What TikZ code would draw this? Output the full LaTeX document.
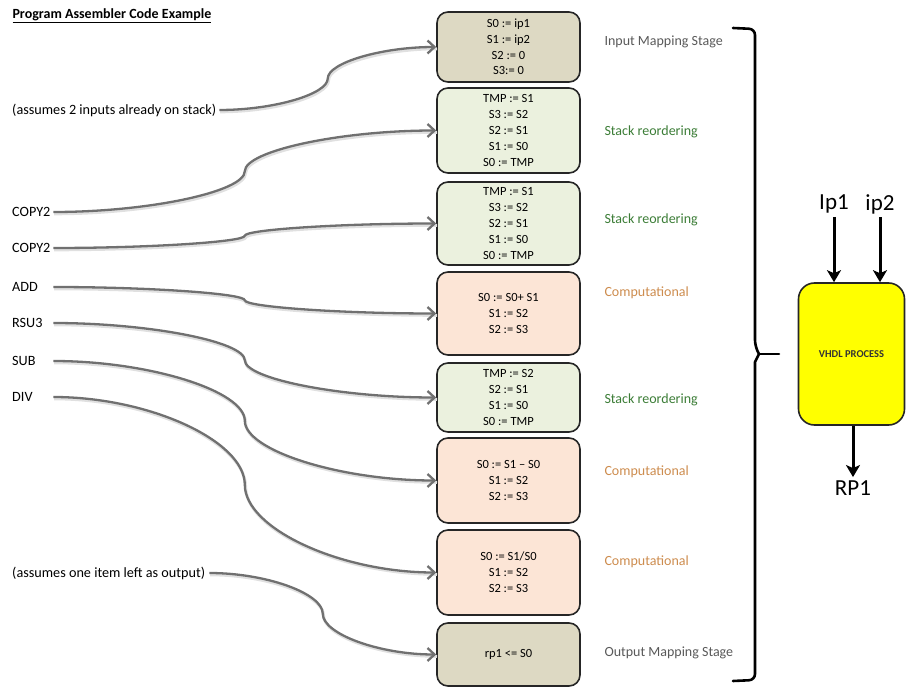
\documentclass[tikz,border=0pt]{standalone}
\usepackage{fontspec}
\setmainfont{Carlito}
\usetikzlibrary{arrows.meta,calc}

\definecolor{tanfill}{RGB}{221,217,195}
\definecolor{greenfill}{RGB}{235,241,222}
\definecolor{peachfill}{RGB}{252,229,214}
\definecolor{conngray}{RGB}{112,112,112}
\definecolor{stagegray}{RGB}{89,89,89}
\definecolor{stagegreen}{RGB}{60,125,55}
\definecolor{stageorange}{RGB}{205,140,78}
\definecolor{vhdlyellow}{RGB}{255,255,0}

\begin{document}
\begin{tikzpicture}[x=1pt,y=-1pt,
  opbox/.style={draw=black!85, line width=1.6pt, rounded corners=11pt,
    minimum width=143pt, align=center, inner sep=0pt,
    font=\fontsize{12.5}{15.8}\selectfont},
  stagelabel/.style={anchor=west, font=\fontsize{14}{16}\selectfont},
  codelabel/.style={anchor=west, inner xsep=2pt, font=\fontsize{14.2}{17}\selectfont},
  oplabel/.style={codelabel, text width=39pt, align=left},
  biglabel/.style={font=\fontsize{23}{27}\selectfont},
  % Office-style curved connector: horizontal ends, vertical tangent halfway
  curvedconn/.style={to path={let \p1=(\tikztostart), \p2=(\tikztotarget) in
    .. controls ({(3*\x1+\x2)/4},\y1) and ({(\x1+\x2)/2},{(3*\y1+\y2)/4})
    .. ({(\x1+\x2)/2},{(\y1+\y2)/2})
    .. controls ({(\x1+\x2)/2},{(\y1+3*\y2)/4}) and ({(\x1+3*\x2)/4},\y2)
    .. (\tikztotarget)}},
  conn/.style={draw=conngray, line width=2.3pt,
    -{Straight Barb[length=7pt,width=13pt]},
    preaction={draw=black!12, line width=3pt, -,
      transform canvas={shift={(0.8pt,-1.8pt)}}}},
  bigarrow/.style={draw=black, line width=3pt,
    -{Stealth[length=12pt,width=14pt,inset=3pt]}},
  bracepen/.style={draw=black, line width=2.6pt, line cap=round, line join=round}
]
\useasboundingbox (0,0) rectangle (906,690);

% ---- stage boxes ----
\node[opbox, fill=tanfill,   minimum height=70pt] (b1) at (508.5,47)
  {S0 := ip1\\S1 := ip2\\S2 := 0\\S3:= 0};
\node[opbox, fill=greenfill, minimum height=85pt] (b2) at (508.5,130.5)
  {TMP := S1\\S3 := S2\\S2 := S1\\S1 := S0\\S0 := TMP};
\node[opbox, fill=greenfill, minimum height=83pt] (b3) at (508.5,223.5)
  {TMP := S1\\S3 := S2\\S2 := S1\\S1 := S0\\S0 := TMP};
\node[opbox, fill=peachfill, minimum height=83pt] (b4) at (508.5,313.5)
  {S0 := S0+ S1\\S1 := S2\\S2 := S3};
\node[opbox, fill=greenfill, minimum height=69pt] (b5) at (508.5,397.5)
  {TMP := S2\\S2 := S1\\S1 := S0\\S0 := TMP};
\node[opbox, fill=peachfill, minimum height=85pt] (b6) at (508.5,480.5)
  {S0 := S1 – S0\\S1 := S2\\S2 := S3};
\node[opbox, fill=peachfill, minimum height=85pt] (b7) at (508.5,572.5)
  {S0 := S1/S0\\S1 := S2\\S2 := S3};
\node[opbox, fill=tanfill,   minimum height=63pt] (b8) at (508.5,654.5)
  {rp1 <= S0};

% ---- stage names ----
\node[stagelabel, text=stagegray]   (s1) at (601,42)  {Input Mapping Stage};
\node[stagelabel, text=stagegreen]  (s2) at (601,132) {Stack reordering};
\node[stagelabel, text=stagegreen]  (s3) at (601,220) {Stack reordering};
\node[stagelabel, text=stageorange] (s4) at (601,293) {Computational};
\node[stagelabel, text=stagegreen]  (s5) at (601,400) {Stack reordering};
\node[stagelabel, text=stageorange] (s6) at (601,472) {Computational};
\node[stagelabel, text=stageorange] (s7) at (601,562) {Computational};
\node[stagelabel, text=stagegray]   (s8) at (601,653) {Output Mapping Stage};

% ---- assembler listing ----
\node[anchor=west, font=\bfseries\fontsize{14}{17}\selectfont] (title) at (9,16)
  {\underline{Program Assembler Code Example}};
\node[codelabel, inner xsep=3pt] (pre) at (9,110) {(assumes 2 inputs already on stack)};
\node[oplabel] (c1) at (10,212) {COPY2};
\node[oplabel] (c2) at (10,248) {COPY2};
\node[oplabel] (c3) at (10,287) {ADD};
\node[oplabel] (c4) at (10,323) {RSU3};
\node[oplabel] (c5) at (10,361) {SUB};
\node[oplabel] (c6) at (10,397) {DIV};
\node[codelabel, inner xsep=4pt] (post) at (8,573) {(assumes one item left as output)};

% ---- connectors ----
\draw[conn] (pre.east)  to[curvedconn] (b1.west);
\draw[conn] (c1.east)   to[curvedconn] (b2.west);
\draw[conn] (c2.east)   to[curvedconn] (b3.west);
\draw[conn] (c3.east)   to[curvedconn] (b4.west);
\draw[conn] (c4.east)   to[curvedconn] (b5.west);
\draw[conn] (c5.east)   to[curvedconn] (b6.west);
\draw[conn] (c6.east)   to[curvedconn] (b7.west);
\draw[conn] (post.east) to[curvedconn] (b8.west);

% ---- grouping brace ----
\coordinate (btop) at (733,28);
\coordinate (btip) at (759,354);
\coordinate (bbot) at (733,681);
\coordinate (bpoint) at (779,354);
\draw[bracepen] (btop) [rounded corners=6pt] -- (755,29) -- (755,346)
  [sharp corners] -- (btip) -- (755,362)
  [rounded corners=6pt] -- (755,680) -- (bbot);
\draw[bracepen] (btip) -- (bpoint);

% ---- VHDL process ----
\node[draw=black!85, line width=1.6pt, fill=vhdlyellow, rounded corners=16pt,
  minimum width=106pt, minimum height=142pt,
  font=\bfseries\fontsize{10.5}{12}\selectfont, text=black!80] (vhdl) at (851.5,354)
  {VHDL PROCESS};
\node[biglabel] (ip1) at (834,204) {Ip1};
\node[biglabel] (ip2) at (880,204) {ip2};
\node[biglabel] (rp1) at (853,488) {RP1};
\draw[bigarrow] (ip1.south) -- (ip1.south |- vhdl.north);
\draw[bigarrow] (ip2.south) -- (ip2.south |- vhdl.north);
\draw[bigarrow] (vhdl.south -| rp1.north) -- (rp1.north);
\end{tikzpicture}
\end{document}
